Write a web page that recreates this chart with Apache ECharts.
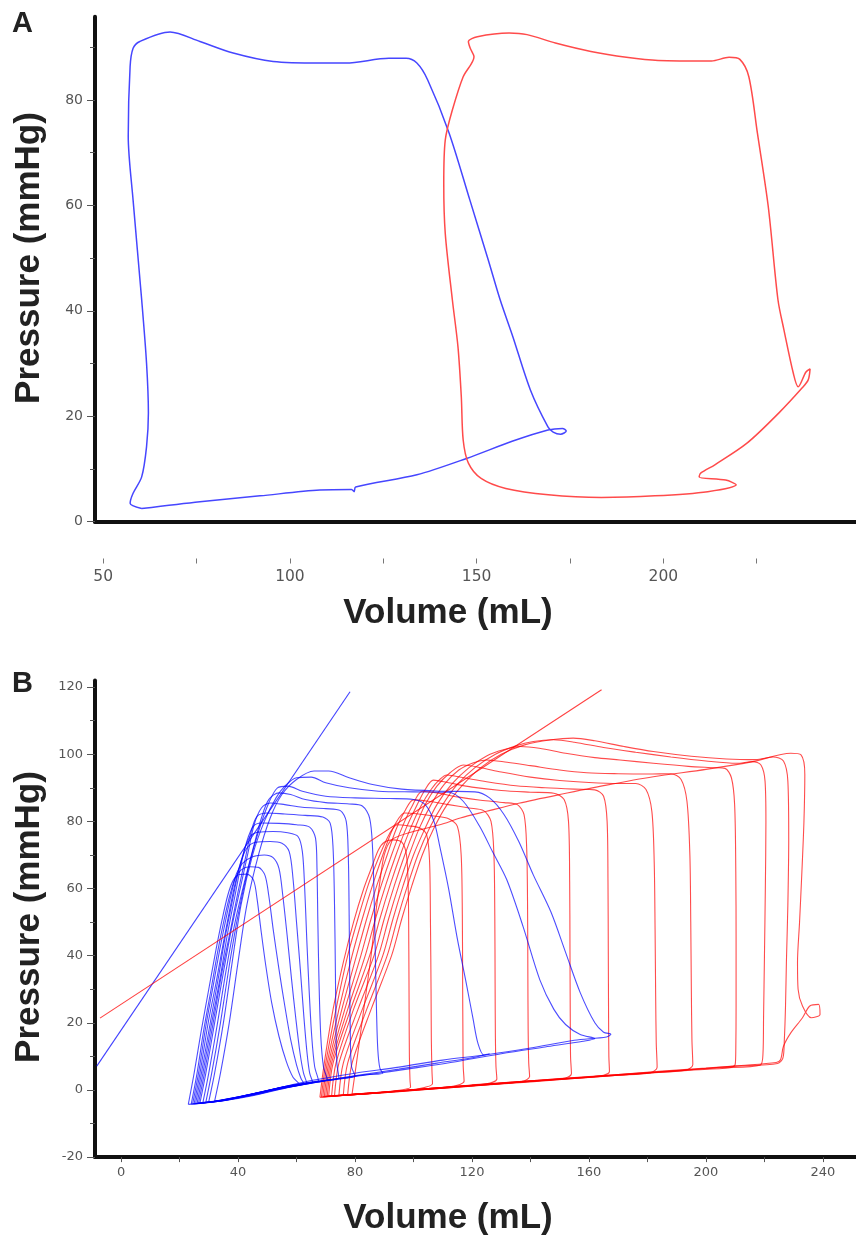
<!DOCTYPE html>
<html>
<head>
<meta charset="utf-8">
<script src="https://cdn.jsdelivr.net/npm/echarts@6/dist/echarts.min.js"></script>
<style>
html,body{margin:0;padding:0;background:#fff;}
#chart{width:856px;height:1236px;}
</style>
</head>
<body>
<div id="chart"></div>
<script>
// ---------- Panel A data (Volume mL, Pressure mmHg) ----------
const aBlue = [[60.3,2.5],[75.9,3.8],[92.0,4.9],[108,6.0],[116.5,6.1],[117.2,5.7],[117.6,6.6],[134,8.9],[147.3,12.0],[159.7,15.3],[169.1,17.4],[173.0,17.7],[174.0,17.2],[172.5,16.6],[170.5,17.0],[169.1,18.0],[164.4,25.0],[159.7,35.1],[156.3,42.1],[153.1,49.7],[148.2,61.0],[142.6,73.8],[136.9,83.8],[134.0,87.0],[131.1,87.9],[126.5,87.9],[115,87.0],[108,87.0],[95.5,87.3],[84.8,88.9],[75.9,91.1],[67.9,92.9],[59.8,91.1],[58.0,89.8],[57.2,86.3],[56.7,73.1],[58.0,61.0],[60.3,42.1],[61.6,30.1],[62.1,20.6],[61.6,14.2],[60.3,8.5],[58.0,5.4],[57.2,3.5],[60.3,2.5]];
const aRed = [[143.5,78.1],[146.4,84.4],[149.3,88.2],[148.3,89.8],[147.8,91.1],[150.2,92.0],[158.7,92.7],[163.5,92.4],[171.1,90.8],[180.6,89.2],[190.1,88.1],[198.6,87.5],[212.9,87.4],[217.6,88.1],[220.5,87.7],[222.9,84.4],[225.2,73.7],[228.1,59.8],[230.7,42.1],[232.3,36.4],[234.8,28.2],[236.1,25.6],[238.2,28.4],[239.3,29.0],[238.8,26.9],[237.2,25.4],[230.9,20.6],[222.4,14.9],[213.8,10.8],[210.0,9.2],[209.6,8.5],[216.7,7.9],[219.5,7.0],[211.9,5.7],[197.7,4.9],[183.4,4.6],[169.2,5.1],[157.8,6.3],[151.2,8.2],[147.8,11.1],[146.4,15.5],[145.9,23.7],[145.0,33.2],[143.5,42.1],[141.6,54.7],[141.2,64.2],[141.6,72.4],[143.5,78.1]];
const aXTicks = [50,75,100,125,150,175,200,225];
const aXLabels = [50,100,150,200];
const aYLabels = [0,20,40,60,80];
const aYMinor = [10,30,50,70,90];

// ---------- Panel B data ----------
const blueESPVR = [[-8.3,7.1],[78.3,118.6]];
const redESPVR = [[-7.2,21.4],[164.3,119.2]];

const blueLoop1 = [[32,-3.3],[34,5],[37,20],[40,38],[43,55],[47,70],[51,81],[55,88],[60,92.5],[66,95],[71,95],[78,93],[86,91],[96,89.6],[110,89],[121,88.8],[126,87],[131,82],[136,74],[141,64],[147,53],[152,41],[157,29],[162,20],[165,17.2],[167.5,16.6],[166,15.8],[155,14.8],[140,12.5],[125,10.5],[110,8.9],[95,6.8],[80,5],[65,2.8],[55,0.8],[45,-1.4],[36,-2.9],[32,-3.3]];
const blueLoop2 = [[30,-3.5],[32,5],[35,20],[38,38],[41,55],[45,70],[49,80],[53,87],[56,90.5],[60,93],[65,93.2],[70,91.5],[78,90],[88,89],[100,88.8],[112,88.7],[117,86],[122.7,78.4],[127,71],[131.9,62.6],[137.5,48.6],[143.2,32.8],[148,24],[152,19.5],[157,16.5],[162,15.3],[158,14.5],[145,12.8],[130,10.8],[115,8.5],[100,6.5],[85,4.6],[70,2.8],[58,1],[45,-1.6],[35,-3.1],[30,-3.5]];
const blueLoop3 = [[29,-3.6],[31,5],[34,20],[37,37],[40,52],[43.5,66],[47,77],[50.5,85.5],[53.5,90],[57,90.5],[62,89],[70,87.5],[80,87],[92,86.8],[100,86.5],[104,85],[107,80],[109,72.5],[112,60],[115,45],[118,32],[120.4,21],[122,14],[124,10.5],[126,10.8],[120,9.6],[108,8],[95,6.2],[82,4.5],[70,2.8],[58,0.9],[45,-1.7],[35,-3.2],[29,-3.6]];
const blueLoop4 = [[28,-3.7],[30,5],[33,20],[36,36],[39,50],[42.5,63],[45.5,73],[48,81],[50.5,86.5],[54,88.5],[58,88],[63,86.5],[70,85.6],[78,85.2],[82.5,84.6],[85,81],[86,72],[86.6,55],[87,38],[87.4,22],[87.8,12],[88.5,6.5],[89.5,5],[84,4.6],[75,3.5],[65,2.3],[55,0.5],[45,-1.5],[35,-3.2],[28,-3.7]];
const blueLoop5 = [[27,-3.8],[29,5],[32,20],[35,35],[38,49],[41,61],[43.5,71],[45.5,79],[48,84],[51,85.5],[56,85],[62,84.2],[70,83.8],[75,83.2],[77,80],[77.7,70],[78,52],[78.2,32],[78.4,16],[78.8,7],[80,4.2],[72,3],[62,1.6],[52,0],[42,-1.9],[33,-3.4],[27,-3.8]];
const blueLoop6 = [[26.5,-3.9],[28.5,5],[31.5,20],[34.5,35],[37.5,48],[40,59],[42.5,69],[44.5,77],[46.5,81.5],[50,82.5],[56,82.2],[63,81.8],[69,81.3],[71.5,79.5],[72.5,72],[73,55],[73.3,35],[73.5,18],[73.8,8],[74.5,3.6],[66,2.5],[56,1],[46,-1],[36,-3],[26.5,-3.9]];
const blueLoop7 = [[26,-4],[28,5],[31,20],[34,34],[36.5,47],[39,58],[41,67],[43,74],[45.2,78.5],[48,79.5],[54,79.4],[60,79],[64.5,78.3],[66.5,75],[67,66],[67.3,50],[67.7,32],[68.3,16],[69.2,7],[70.5,3.2],[62,1.9],[52,0.2],[42,-1.8],[33,-3.4],[26,-4]];
const blueLoop8 = [[25.5,-4],[27.5,5],[30.5,20],[33.2,33],[35.5,45],[38,56],[40,64.5],[42,71],[44.1,75.5],[47,76.8],[52,77],[57,76.6],[60.5,75.5],[62,71],[62.8,60],[63.5,45],[64.3,30],[65.2,16],[66.2,7],[67.5,2.8],[60,1.6],[50,-0.2],[40,-2.1],[32,-3.5],[25.5,-4]];
const blueLoop9 = [[25,-4.1],[27,5],[29.8,20],[32.5,32],[34.8,43],[37,53],[39,61.5],[41,68],[43,72],[46,73.8],[51,74],[55,73.5],[57.5,71],[58.8,63],[60,50],[61.3,36],[62.5,22],[63.6,11],[64.5,5],[65.5,2.4],[58,1.3],[48,-0.6],[38,-2.4],[30,-3.7],[25,-4.1]];
const blueLoop10 = [[24.5,-4.1],[26.5,5],[29,19],[31.5,31],[33.8,42],[36,51.5],[38,59.5],[39.5,64.5],[41.5,67.5],[45,69.5],[49,70],[52,69.2],[54,66],[55.3,58],[56.8,46],[58.3,33],[59.8,21],[61.2,11],[62.4,5],[63.5,2.1],[56,1],[46,-1],[36,-2.8],[29,-3.8],[24.5,-4.1]];
const blueLoop11 = [[24,-4.2],[26,5],[28.3,18],[30.8,30],[33,41],[35.2,50.5],[37.2,58],[39,63],[41,65.5],[44,66.5],[47,66.3],[49.2,64],[50.5,58],[52,48],[54,36],[56,25],[58,15],[60,7.5],[61.5,3.5],[62.5,1.9],[55,0.7],[45,-1.2],[35,-3],[28,-3.9],[24,-4.2]];
const blueLoop12 = [[23,-4.3],[25,5],[27.5,18],[30,30],[32.3,41],[34.5,50.5],[36.5,58],[38.4,62.5],[40.5,64.2],[43,64.3],[45.3,62.5],[46.5,57],[47.8,48],[49.5,37],[51.5,26],[54,16],[56.5,8.5],[58.8,3.8],[61,1.7],[53,0.3],[43,-1.6],[33,-3.2],[27,-4],[23,-4.3]];

const redLoop1 = [[79,-1.2],[80.5,8],[83,24],[85.5,40],[87,52],[88.5,62],[90,70],[92.5,74.5],[100,77],[109,79],[116,81],[125,83],[136,85.4],[150,88],[166,90.8],[182,93.3],[200,95.5],[216,97.8],[229,100.3],[232.5,99.8],[233.8,94],[233.5,80],[232.8,65],[232,50],[231.3,38],[231.5,30],[233,25],[236,21.5],[239,22.5],[238.5,25.5],[235.5,25],[233,21.5],[229,17],[226.5,13],[225.5,9],[224,8.2],[212,7.3],[200,6.5],[185,5.6],[170,4.6],[155,3.6],[140,2.6],[125,1.6],[110,0.6],[95,-0.3],[85,-0.9],[79,-1.2]];
const redLoop2 = [[77.5,-1.4],[79,8],[85.5,24],[92.5,40],[96,51],[99.5,61],[103,70],[107,78],[111.5,85],[117,91],[123,96],[130,100],[138,102.8],[147,104.3],[154.6,104.8],[162,104],[172,102.3],[182,100.8],[195,99.4],[207,98.6],[217,98.4],[223,99.2],[226.5,98],[228,92],[228.3,75],[228,55],[227.5,38],[227.2,25],[226.8,15],[226.3,9.5],[224.5,7.9],[210,7.1],[195,6.1],[180,5.2],[165,4.3],[150,3.4],[135,2.4],[120,1.5],[105,0.4],[90,-0.6],[77.5,-1.4]];
const redLoop3 = [[76,-1.5],[77.5,8],[84,24],[91,40],[94.5,51],[98,61],[101.5,70],[105.5,78],[110,85],[115,91],[121,96],[128,100],[135,102.5],[141,103.8],[147.8,104.3],[155,103.6],[165,102],[176,100.6],[188,99.2],[200,98],[210.5,97.3],[216,97.8],[218.8,96.8],[220.2,92],[220.5,80],[220.3,60],[220,40],[219.7,22],[219.5,11],[218.5,7.4],[205,6.6],[190,5.7],[175,4.7],[160,3.8],[145,2.9],[130,1.9],[115,0.9],[100,-0.1],[88,-0.8],[76,-1.5]];
const redLoop4 = [[74.5,-1.6],[76,8],[82.5,24],[89.5,40],[93,51],[96.5,61],[100,70],[104,78],[108,85],[113,91],[119,96],[125,99.5],[131,101.4],[136.4,102.3],[143,101.8],[152,100.3],[162,99],[170.6,98.3],[182,97.3],[194,96.4],[203,96],[206.5,95.8],[208.7,93],[209.8,85],[210.2,65],[210.3,45],[210.3,25],[210.2,12],[210,7.6],[208,6.6],[195,5.9],[180,5],[165,4.1],[150,3.1],[135,2.2],[120,1.2],[105,0.2],[90,-0.8],[74.5,-1.6]];
const redLoop5 = [[73,-1.7],[74.5,8],[81,24],[88,40],[91.5,51],[95,61],[98.5,70],[102,78],[106,85],[110.5,91],[115.5,95.3],[120.5,97.5],[125,98.3],[132,97.6],[140,96.6],[150,95.3],[159.2,94.5],[170,94.2],[180,94.1],[188,94.2],[191.5,92.5],[193.5,86],[194.5,70],[194.8,50],[195,30],[195.2,15],[195.5,7.5],[193,5.9],[180,5.1],[165,4.2],[150,3.2],[135,2.3],[120,1.3],[105,0.3],[90,-0.7],[73,-1.7]];
const redLoop6 = [[72,-1.8],[73.5,8],[79.5,24],[86.5,40],[90,51],[93.5,61],[97,70],[100.5,78],[104,85],[108,90.5],[112.5,94.5],[117,96.8],[123,96],[130,94.7],[140,93.2],[150,92.2],[160,91.6],[170,91.3],[176,91.3],[179.5,89.5],[181.5,83],[182.3,68],[182.6,48],[182.8,28],[183,14],[183.3,6.8],[181,5.1],[170,4.4],[155,3.4],[140,2.4],[125,1.5],[110,0.5],[95,-0.5],[82,-1.3],[72,-1.8]];
const redLoop7 = [[71,-1.8],[72.5,8],[78.5,24],[85,40],[88.5,51],[92,61],[95.5,70],[99,78],[102.5,84.5],[106,89.5],[109,92.5],[111.4,93.8],[117,93],[125,91.8],[135,90.6],[145,90],[155,89.6],[162,89.4],[165,87.5],[166.2,80],[166.5,62],[166.6,42],[166.7,22],[166.8,10],[167,5.5],[164,4.2],[150,3.3],[135,2.4],[120,1.4],[105,0.4],[90,-0.6],[80,-1.3],[71,-1.8]];
const redLoop8 = [[70.5,-1.9],[72,8],[77.5,24],[83.5,40],[87,51],[90.5,61],[94,70],[97.5,78],[101,84.5],[104,89.5],[106.8,92.3],[112,91.5],[120,90.2],[130,89.2],[140,88.7],[148,88.4],[151.5,86.5],[153,80],[153.4,62],[153.5,42],[153.6,22],[153.7,10],[154,4.8],[151,3.4],[140,2.7],[125,1.7],[110,0.7],[95,-0.3],[82,-1.3],[70.5,-1.9]];
const redLoop9 = [[70,-1.9],[71.5,8],[76.5,24],[82,40],[85.5,51],[89,61],[92.5,70],[96,78],[99.5,84.5],[103,89],[108,88.5],[115,87.3],[123,86.3],[131,85.6],[135.5,85],[137.8,82],[138.7,72],[139,55],[139.1,35],[139.2,18],[139.4,8],[139.7,4],[137,2.5],[125,1.7],[112,0.9],[98,-0.1],[84,-1.1],[70,-1.9]];
const redLoop10 = [[69.5,-2],[71,8],[75.5,24],[80.5,40],[84,51],[87.5,61],[91,70],[94,77.5],[97,83],[100,86.4],[105,86],[112,85],[119,84],[124,83.2],[126.5,80],[127.5,70],[127.8,52],[127.9,32],[128,16],[128.2,7],[128.5,3.3],[125,1.8],[112,0.9],[98,-0.1],[84,-1.1],[69.5,-2]];
const redLoop11 = [[69,-2],[70.5,8],[74.5,24],[79,40],[82.5,51],[86,61],[89.5,70],[92.5,77],[95,81],[97,82.5],[101,82.3],[107,81.6],[112,80.8],[115,78.5],[116.3,70],[116.7,52],[116.8,32],[116.9,16],[117,7],[117.3,2.6],[112,0.9],[98,-0.1],[84,-1.1],[69,-2]];
const redLoop12 = [[68.5,-2.1],[70,8],[73.5,24],[77.5,40],[81,51],[84.5,61],[88,69],[91,75],[93,78],[94.5,79],[98,78.7],[102,78.1],[104.5,76],[105.5,68],[105.8,50],[106,30],[106.1,15],[106.3,6],[106.5,1.9],[98,-0.1],[84,-1.1],[68.5,-2.1]];
const redLoop13 = [[68,-2.2],[69.5,8],[72.5,24],[76,38],[79.5,50],[83,60],[86,67],[88,71.5],[90,73.8],[93,74.5],[96,73.8],[97.6,70],[98.2,60],[98.4,42],[98.5,24],[98.6,10],[98.8,3],[99,0.9],[90,-0.6],[80,-1.3],[68,-2.2]];

const bXTicks = [0,20,40,60,80,100,120,140,160,180,200,220,240];
const bXLabels = [0,40,80,120,160,200,240];
const bYLabels = [-20,0,20,40,60,80,100,120];
const bYMinor = [-10,10,30,50,70,90,110];

const blueLoops = [blueLoop1,blueLoop2,blueLoop3,blueLoop4,blueLoop5,blueLoop6,blueLoop7,blueLoop8,blueLoop9,blueLoop10,blueLoop11,blueLoop12];
const redLoops = [redLoop1,redLoop2,redLoop3,redLoop4,redLoop5,redLoop6,redLoop7,redLoop8,redLoop9,redLoop10,redLoop11,redLoop12,redLoop13];

// ---------- chart ----------
const chart = echarts.init(document.getElementById('chart'), null, {renderer:'canvas'});
const labelA_y = {color:'#555', fontSize:14, fontFamily:'DejaVu Sans'};
const labelA_x = {color:'#555', fontSize:15.5, fontFamily:'DejaVu Sans'};
const labelB = {color:'#555', fontSize:13, fontFamily:'DejaVu Sans'};
const titleFont = 'bold 35px "Liberation Sans", Arial, sans-serif';
const AXMIN = 47.8, AXMAX = 251.6, AYMAX = 95.8;
const BXMIN = -8.9, BXMAX = 251.3, BYMIN = -20, BYMAX = 122;

const series = [];
series.push({type:'line', xAxisIndex:0, yAxisIndex:0, data:aBlue, smooth:0.3, showSymbol:false, lineStyle:{color:'rgb(70,70,255)', width:1.5}, silent:true});
series.push({type:'line', xAxisIndex:0, yAxisIndex:0, data:aRed, smooth:0.3, showSymbol:false, lineStyle:{color:'rgb(255,75,75)', width:1.5}, silent:true});
redLoops.forEach(function(d){
  series.push({type:'line', xAxisIndex:2, yAxisIndex:2, data:d, smooth:0.3, showSymbol:false, lineStyle:{color:'rgba(255,0,0,0.7)', width:1.1}, silent:true});
});
blueLoops.forEach(function(d){
  series.push({type:'line', xAxisIndex:2, yAxisIndex:2, data:d, smooth:0.3, showSymbol:false, lineStyle:{color:'rgba(0,0,255,0.7)', width:1.1}, silent:true});
});
series.push({type:'line', xAxisIndex:2, yAxisIndex:2, data:blueESPVR, showSymbol:false, lineStyle:{color:'rgba(0,0,255,0.75)', width:1.1}, silent:true});
series.push({type:'line', xAxisIndex:2, yAxisIndex:2, data:redESPVR, showSymbol:false, lineStyle:{color:'rgba(255,0,0,0.75)', width:1.1}, silent:true});

const hiddenLine = {show:false, onZero:false};
const option = {
  animation:false,
  backgroundColor:'#ffffff',
  grid:[
    {left:95, right:0, top:16.7, bottom:714.3, outerBoundsMode:'none', containLabel:false},
    {left:95, right:0, top:680.4, bottom:78.9, outerBoundsMode:'none', containLabel:false},
    {left:95, right:0, top:540, bottom:677.5, outerBoundsMode:'none', containLabel:false}
  ],
  xAxis:[
    {type:'value', gridIndex:0, position:'bottom', min:AXMIN, max:AXMAX, axisLine:{show:true, onZero:false, lineStyle:{color:'#111', width:4}}, axisTick:{show:false}, axisLabel:{show:false}, splitLine:{show:false}},
    {type:'value', gridIndex:2, position:'bottom', min:AXMIN, max:AXMAX, axisLine:hiddenLine, axisTick:{show:true, customValues:aXTicks, length:5, lineStyle:{color:'#777', width:1}}, axisLabel:Object.assign({show:true, customValues:aXLabels, margin:10}, labelA_x), splitLine:{show:false}},
    {type:'value', gridIndex:1, position:'bottom', min:BXMIN, max:BXMAX, axisLine:{show:true, onZero:false, lineStyle:{color:'#111', width:4}}, axisTick:{show:true, customValues:bXTicks, length:5, lineStyle:{color:'#555', width:1}}, axisLabel:Object.assign({show:true, customValues:bXLabels, margin:9}, labelB), splitLine:{show:false}}
  ],
  yAxis:[
    {type:'value', gridIndex:0, position:'left', min:0, max:AYMAX, axisLine:{show:true, onZero:false, lineStyle:{color:'#111', width:4}}, axisTick:{show:true, customValues:aYLabels, length:8, lineStyle:{color:'#555', width:1}}, axisLabel:Object.assign({show:true, customValues:aYLabels, margin:12}, labelA_y), splitLine:{show:false}},
    {type:'value', gridIndex:0, position:'left', min:0, max:AYMAX, axisLine:hiddenLine, axisTick:{show:true, customValues:aYMinor, length:5, lineStyle:{color:'#555', width:1}}, axisLabel:{show:false}, splitLine:{show:false}},
    {type:'value', gridIndex:1, position:'left', min:BYMIN, max:BYMAX, axisLine:{show:true, onZero:false, lineStyle:{color:'#111', width:4}}, axisTick:{show:true, customValues:bYLabels, length:8, lineStyle:{color:'#555', width:1}}, axisLabel:Object.assign({show:true, customValues:bYLabels, margin:12}, labelB), splitLine:{show:false}},
    {type:'value', gridIndex:1, position:'left', min:BYMIN, max:BYMAX, axisLine:hiddenLine, axisTick:{show:true, customValues:bYMinor, length:5, lineStyle:{color:'#555', width:1}}, axisLabel:{show:false}, splitLine:{show:false}},
    {type:'value', gridIndex:2, position:'left', min:0, max:1, show:false}
  ],
  graphic:[
    {type:'text', x:22.5, y:24, style:{text:'A', font:'bold 29px "Liberation Sans", Arial, sans-serif', fill:'#222', textAlign:'center', textVerticalAlign:'middle'}},
    {type:'text', x:22.5, y:684, style:{text:'B', font:'bold 29px "Liberation Sans", Arial, sans-serif', fill:'#222', textAlign:'center', textVerticalAlign:'middle'}},
    {type:'text', x:29, y:258, rotation:Math.PI/2, style:{text:'Pressure (mmHg)', font:titleFont, fill:'#222', textAlign:'center', textVerticalAlign:'middle'}},
    {type:'text', x:29, y:917, rotation:Math.PI/2, style:{text:'Pressure (mmHg)', font:titleFont, fill:'#222', textAlign:'center', textVerticalAlign:'middle'}},
    {type:'text', x:448, y:613, style:{text:'Volume (mL)', font:titleFont, fill:'#222', textAlign:'center', textVerticalAlign:'middle'}},
    {type:'text', x:448, y:1218, style:{text:'Volume (mL)', font:titleFont, fill:'#222', textAlign:'center', textVerticalAlign:'middle'}}
  ],
  series:series
};
chart.setOption(option);
</script>
</body>
</html>
